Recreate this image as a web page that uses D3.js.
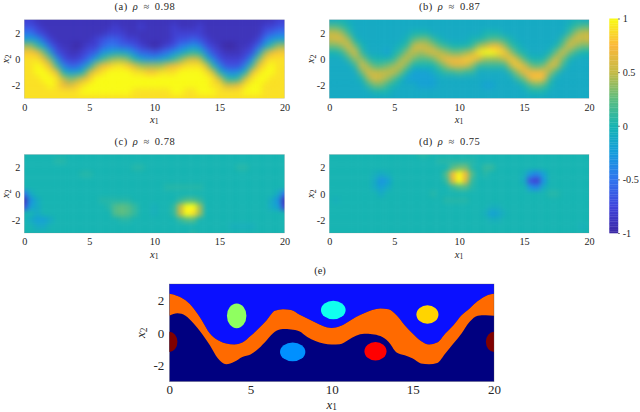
<!DOCTYPE html>
<html><head><meta charset="utf-8">
<script src="https://cdn.jsdelivr.net/npm/d3@7"></script>
<style>html,body{margin:0;padding:0;background:#fff}svg{display:block}
text{font-family:"Liberation Serif",serif;fill:#262626}</style></head><body>
<script>
const xTicks=[0,5,10,15,20], yTicks=[-2,0,2], cbTicks=[-1,-0.5,0,0.5,1];
const xNodes=d3.range(41).map(i=>i/2);            // 0 .. 20
const yNodes=d3.range(13).map(i=>3-i/2);          // 3 .. -3
const panelTitles=["(a) ρ ≈ 0.98","(b) ρ ≈ 0.87","(c) ρ ≈ 0.78","(d) ρ ≈ 0.75"];
const parulaStops=["#3b28a4","#4044dc","#2f74ee","#149cdc","#16b4b2","#5dbd80","#c4ba45","#fbb83a","#f9fb15"];
// values in tenths; panels a and b listed column by column (x=0..20, each y=3..-3)
const fieldA=[
[-8,-7,-5,-2,4,8,9,9,9,9,9,9,9],[-8,-7,-5,-2,4,8,9,9,9,9,9,9,9],[-9,-8,-7,-3,1,7,9,10,10,9,9,9,9],
[-9,-9,-8,-6,-2,3,7,9,10,10,9,9,9],[-9,-9,-9,-8,-6,-2,3,7,9,10,10,9,9],[-9,-9,-9,-9,-8,-7,-3,1,7,9,9,9,9],
[-9,-9,-9,-9,-9,-8,-7,-4,0,5,7,9,9],[-9,-9,-9,-9,-9,-9,-8,-6,-2,3,6,9,9],[-9,-9,-9,-9,-10,-9,-8,-6,-2,4,8,9,9],
[-9,-9,-9,-9,-9,-8,-7,-4,0,6,9,10,9],[-9,-9,-9,-9,-8,-7,-5,-1,5,8,10,10,9],[-9,-9,-9,-8,-8,-6,-2,4,8,10,10,10,9],
[-9,-9,-9,-7,-6,-3,1,7,9,10,10,10,9],[-9,-9,-8,-6,-5,-2,3,8,10,10,10,10,9],[-9,-8,-8,-6,-5,-1,4,9,10,10,10,10,9],
[-9,-9,-8,-7,-6,-1,4,9,10,10,10,10,9],[-9,-9,-9,-8,-6,-2,3,8,10,10,10,10,9],[-9,-9,-9,-8,-7,-4,0,6,9,10,10,9,9],
[-9,-8,-9,-9,-8,-6,-2,4,9,10,10,9,9],[-9,-9,-9,-9,-9,-6,-3,4,8,10,10,9,9],[-9,-9,-9,-9,-10,-7,-3,4,8,10,10,9,9],
[-9,-9,-9,-9,-9,-6,-2,4,9,10,10,9,9],[-9,-9,-9,-9,-8,-5,-1,6,9,10,10,9,9],[-9,-8,-8,-8,-7,-3,1,7,9,10,10,10,9],
[-9,-9,-8,-7,-5,-2,3,8,10,10,10,10,9],[-9,-9,-8,-7,-4,0,5,9,10,10,10,9,9],[-9,-9,-8,-6,-3,1,6,9,10,10,10,9,9],
[-9,-8,-8,-7,-4,0,5,9,10,10,10,10,9],[-9,-9,-9,-8,-7,-4,0,6,9,10,10,10,9],[-9,-9,-9,-9,-8,-7,-4,0,6,9,9,10,9],
[-9,-9,-9,-9,-9,-8,-7,-4,0,6,9,9,9],[-9,-9,-9,-9,-10,-9,-8,-7,-3,1,6,9,9],[-9,-9,-9,-9,-10,-9,-8,-7,-4,0,6,9,9],
[-9,-9,-9,-9,-9,-9,-8,-7,-3,1,7,9,9],[-9,-9,-9,-9,-9,-8,-7,-4,0,6,9,10,9],[-9,-9,-9,-9,-8,-7,-3,1,7,9,10,10,9],
[-9,-9,-9,-8,-6,-2,3,7,9,10,10,10,9],[-9,-8,-7,-5,-2,4,8,9,10,10,9,9,9],[-9,-8,-6,-3,1,7,9,10,10,9,9,9,9],
[-8,-7,-5,-2,4,8,9,9,9,9,9,9,9],[-8,-7,-5,-2,4,8,9,9,9,9,9,9,9]];
const fieldB=[
[-1,2,5,5,3,0,-1,-1,-1,-1,-1,-1,-1],[-1,2,5,6,3,0,-1,-1,-1,-1,-1,-1,-1],[0,1,4,6,4,1,-1,-1,-1,-1,-1,-1,-1],
[-1,0,1,4,6,4,1,-1,-1,-1,-1,-1,-1],[-1,-1,-1,0,3,6,4,1,-1,-1,-1,-1,-1],[-1,-1,-1,-1,0,1,4,6,3,0,-1,-1,-1],
[-1,-1,-1,-1,-1,-1,1,4,6,4,1,-1,-1],[-1,-1,-1,-1,-1,-1,0,2,5,6,3,0,-1],[-1,-1,-1,-1,-1,-1,0,2,5,5,3,0,-1],
[-1,-1,-1,-1,-1,-2,0,3,5,4,1,0,-1],[-1,-1,-1,-1,-1,0,1,4,5,2,0,-1,-1],[-1,-1,-1,-1,0,1,4,5,3,0,-1,-1,-1],
[-1,-1,-1,0,1,4,5,3,0,-2,-1,-1,-1],[-1,-1,0,2,5,5,3,0,-2,-2,-1,-1,-1],[-1,-1,0,3,6,4,2,0,-2,-2,-2,-1,-1],
[-1,-1,0,3,5,5,2,0,-2,-2,-2,-1,-1],[-1,-1,-1,1,4,6,3,0,-1,-2,-2,-1,-1],[-1,-1,-1,0,2,5,5,2,0,-1,-1,-1,-1],
[-1,-1,-1,-1,1,4,7,4,1,-1,-1,-1,-1],[-1,-1,-1,-1,0,3,7,6,1,-1,-1,-1,-1],[-1,-1,-1,-1,0,3,7,6,2,-1,-1,-1,-1],
[-1,-1,-1,-1,0,4,8,6,1,-1,-1,-1,-1],[-1,-1,-1,0,1,5,8,4,1,-1,-1,-1,-1],[-1,-1,-1,0,4,9,6,1,-1,-1,-1,-1,-1],
[-1,-1,0,1,5,10,4,1,-1,-1,-2,-1,-1],[-1,-1,0,2,7,10,4,1,-1,-1,-2,-1,-1],[-1,-1,0,2,7,9,4,1,-1,-1,-1,-1,-1],
[-1,-1,-1,1,4,8,5,1,-1,-1,-1,-1,-1],[-1,-1,-1,0,1,4,8,5,1,-1,-1,-1,-1],[-1,-1,-1,-1,0,1,5,8,4,1,-1,-1,-1],
[-1,-1,-1,-1,-1,0,2,6,7,3,0,-1,-1],[-1,-1,-1,-1,-1,-1,0,3,7,7,2,0,-1],[-1,-1,-1,-1,-1,-1,0,2,7,8,3,0,-1],
[-1,-1,-1,-1,-1,-1,0,3,7,7,2,0,-1],[-1,-1,-1,-1,-1,0,3,6,4,1,0,-1,-1],[-1,-1,-1,-1,0,3,6,5,1,-1,-1,-1,-1],
[-1,-1,-1,1,3,6,3,1,-1,-1,-1,-1,-1],[-1,0,1,4,6,3,0,-1,-1,-1,-1,-1,-1],[0,1,4,6,4,1,-1,-1,-1,-1,-1,-1,-1],
[-1,2,5,5,3,0,-1,-1,-1,-1,-1,-1,-1],[-1,2,5,6,3,0,-1,-1,-1,-1,-1,-1,-1]];
// panels c and d listed row by row (y=3..-3, each x=0..20), grouped by ten columns
const fieldCRows=[
[0,0,0,0,0,0,0,0,0,0, 0,0,0,0,0,0,0,0,0,0, 0,0,0,0,0,0,0,0,0,0, 0,0,0,0,0,0,0,0,0,0, 0],
[0,0,0,0,0,.5,.5,0,0,0, 0,0,0,0,0,0,0,0,0,0, 0,0,0,0,0,0,0,0,0,0, 0,0,0,0,0,0,0,0,0,0, 0],
[0,0,0,0,0,0,0,0,0,0, 0,0,0,0,0,0,0,.5,.5,0, 0,0,0,0,0,0,0,0,0,0, 0,0,0,.5,.5,0,0,0,0,0, 0],
[0,0,0,0,0,0,0,0,0,.5, .5,0,0,0,0,0,0,0,0,0, 0,0,0,0,0,0,0,0,0,0, 0,0,0,0,0,0,0,0,0,0, 0],
[0,0,0,0,0,0,0,0,0,0, 0,0,0,0,0,0,0,0,0,0, 0,0,0,0,0,0,0,0,0,0, 0,0,0,0,0,0,0,0,0,0, 0],
[0,0,0,0,0,0,0,0,0,0, 0,0,0,0,0,0,0,0,0,0, 0,0,.5,.5,.5,.5,.5,.5,0,0, 0,0,0,0,0,0,0,0,0,0, 0],
[-5,-1,0,0,0,0,0,0,0,0, 0,0,0,0,0,0,0,0,0,0, 0,0,0,0,0,0,0,0,0,0, 0,0,0,0,0,0,0,0,0,-1, -5],
[-9,-3,-1,0,0,0,0,0,0,0, 0,0,.5,.5,.5,.5,.5,0,0,0, 0,0,0,0,1,2,2,1,0,0, 0,0,0,0,0,0,0,0,-1,-3, -9],
[-7,-2,-1,0,0,0,0,0,0,0, 0,0,0,.5,2,2.5,2,1,0,0, -.5,0,0,1,5,10,10,4,0,0, 0,0,0,0,0,0,0,0,-1,-2, -8],
[0,0,-1,0,0,0,0,0,0,0, 0,0,0,0,2,2.5,2,1,0,0, -.5,0,0,1,5,10,9,4,0,0, 0,0,0,0,0,0,0,0,0,0, 0],
[0,-1,-2,-2,-1,0,0,0,0,0, 0,0,0,0,0,.5,.5,0,0,0, 0,0,0,0,1,2,2,0,0,0, 0,0,0,0,0,0,0,0,0,0, 0],
[0,0,-1,-1,0,0,0,0,0,0, 0,0,0,0,0,0,0,0,0,0, 0,0,0,0,0,0,0,0,0,0, 0,0,-.5,-.5,-.5,-.5,0,0,0,0, 0],
[0,0,0,0,0,0,0,0,0,0, 0,0,0,0,0,0,0,0,0,0, 0,0,0,0,0,0,.5,0,0,0, 0,0,0,0,0,0,0,0,0,0, 0]];
const fieldDRows=[
[0,0,0,0,0,0,0,0,0,0, 0,0,0,0,.5,.5,0,0,0,0, 0,0,0,0,0,0,0,0,0,0, 0,0,0,0,0,0,0,0,0,0, 0],
[0,0,0,0,0,0,0,0,0,0, 0,0,0,0,0,0,0,.5,.5,.5, .5,.5,.5,0,0,0,0,0,0,0, 0,0,0,0,0,0,0,0,0,0, 0],
[0,0,0,0,0,0,0,0,0,0, 0,0,0,0,0,0,0,0,0,2, 3,3,.5,0,1,1,0,0,0,0, 0,0,0,0,0,0,0,0,0,0, 0],
[0,0,0,0,0,0,0,-.5,-1,-.5, 0,0,0,0,0,0,0,0,2,7, 10,7,2,0,.5,0,0,0,0,0, -.5,-3,-4,-2,0,0,0,0,0,0, 0],
[0,0,0,0,0,0,0,-1,-3,-2, 0,0,0,0,0,0,0,0,1,6, 10,6,1,0,0,0,0,0,0,0, -1,-7,-8,-3,0,0,0,0,0,0, 0],
[0,0,0,0,0,0,0,-1,-2,-1, 0,0,0,0,0,0,0,0,0,1, 2,2,.5,0,0,0,0,0,0,0, 0,-3,-4,-1,0,0,0,0,0,0, 0],
[0,0,0,0,0,0,0,0,-1,0, 0,0,0,0,0,0,.5,0,0,0, 0,0,0,0,0,0,0,0,0,0, 0,0,0,0,.5,.5,0,0,0,0, 0],
[0,-.5,0,0,0,0,0,0,0,0, 0,0,0,0,0,0,0,0,.5,.5, .5,.5,0,0,0,0,0,0,0,0, 0,0,0,0,0,0,0,0,0,0, 0],
[0,0,0,0,0,0,0,0,0,0, 0,0,0,0,0,0,0,0,0,0, 0,0,0,0,0,-.5,-.5,0,0,0, 0,0,0,0,0,0,0,0,0,0, 0],
[0,0,0,0,0,0,0,0,0,0, 0,0,0,0,0,0,0,0,0,0, 0,0,0,0,-.5,-2,-1.5,-.5,0,0, 0,0,0,0,0,0,0,0,0,0, 0],
[0,0,0,0,0,0,0,0,0,0, 0,0,0,0,0,0,0,0,0,0, 0,0,0,0,0,-.5,-.5,0,0,0, 0,0,0,0,0,0,0,0,0,0, 0],
[0,0,0,0,0,0,0,0,0,0, 0,0,0,0,0,0,0,0,0,0, 0,0,0,0,0,0,0,0,0,0, 0,0,0,0,0,0,0,0,0,-.5, 0],
[0,0,0,0,0,0,0,0,0,0, 0,0,0,0,0,0,0,0,0,0, 0,0,0,0,0,0,0,0,0,0, 0,0,0,0,0,0,0,0,0,0, 0]];
// panel e: band edges at x=0..20 step .5, then blobs
const bandTop=[2.4,2.27,2,1.5,.78,-.04,-.45,-.65,-.72,-.6,-.2,.27,.78,1.35,1.45,1.4,1.13,.88,.63,.4,.3,.4,.67,.98,1.2,1.4,1.5,1.45,1.08,.47,-.05,-.5,-.72,-.6,-.04,.47,1.08,1.5,1.95,2.27,2.4];
const bandBottom=[1.05,1.2,1.05,.57,-.04,-.76,-1.58,-1.93,-1.78,-1.48,-1.33,-.96,-.45,.06,.23,.2,.1,-.25,-.5,-.66,-.72,-.7,-.45,-.18,-.06,-.08,-.2,-.55,-1.2,-1.37,-1.58,-1.88,-1.93,-1.85,-1.27,-.66,-.04,.68,1.05,1.08,1.05];
const blobX=[4.15,10.1,15.9,7.6,12.7,0,20];
const blobY=[1.05,1.4,1.13,-1.17,-1.13,-.55,-.55];
const blobRx=[.6,.76,.68,.78,.68,.5,.5];
const blobRy=[.76,.57,.57,.57,.57,.62,.62];
const blobColor=["#8fff60","#10ffef","#ffd400","#0090ff","#ff0000","#800000","#800000"];
const regionColor={below:"#000080",above:"#0a10ff",band:"#ff6a00"};

const svg=d3.select("body").append("svg").attr("width",640).attr("height",412);
const defs=svg.append("defs");
const parula=d3.scaleLinear().domain(parulaStops.map((_,i)=>-1+i/4)).range(parulaStops).clamp(true);
[["smA",3.2],["smC",2.4]].forEach(([id,s])=>defs.append("filter").attr("id",id).attr("filterUnits","userSpaceOnUse")
  .attr("x",-30).attr("y",-30).attr("width",700).attr("height",470)
  .attr("color-interpolation-filters","sRGB")
  .append("feGaussianBlur").attr("stdDeviation",s));

function labelX(g,x,y,size,sub){
  const t=g.append("text").attr("x",x).attr("y",y).attr("text-anchor","middle").style("font-size",size+"px");
  t.append("tspan").attr("font-style","italic").text("x");
  t.append("tspan").attr("dy",size*.12).style("font-size",size*.72+"px").text(sub);
  return t;
}
function axes(g,x,y,b,size,opts){
  const ax=g.append("g").attr("transform",`translate(0,${b.y1})`)
    .call(d3.axisBottom(x).tickValues(xTicks).tickFormat(d3.format("d")).tickSize(0).tickPadding(opts.padX));
  const ay=g.append("g").attr("transform",`translate(${b.x0},0)`)
    .call(d3.axisLeft(y).tickValues(yTicks).tickFormat(d=>String(d)).tickSize(0).tickPadding(opts.padY));
  [ax,ay].forEach(a=>{a.select(".domain").remove();a.selectAll("text").style("font-size",size+"px").style("font-family",'"Liberation Serif",serif').attr("fill","#262626");});
  labelX(g,(b.x0+b.x1)/2,opts.xLabelY,opts.labelSize,"1");
  labelX(g,0,0,opts.labelSize,"2").attr("transform",`translate(${opts.yLabelX},${(b.y0+b.y1)/2}) rotate(-90)`);
}
function heat(panelBox,cols,title,id,filterId){
  const b=panelBox;
  const x=d3.scaleLinear().domain([0,20]).range([b.x0,b.x1]);
  const y=d3.scaleLinear().domain([-3,3]).range([b.y1,b.y0]);
  const g=svg.append("g");
  defs.append("clipPath").attr("id",id).append("rect").attr("x",b.x0).attr("y",b.y0).attr("width",b.x1-b.x0).attr("height",b.y1-b.y0);
  const dx=(x(1)-x(0))/4, dy=(y(0)-y(1))/4;
  const cells=[];
  cols.forEach((col,i)=>col.forEach((v,j)=>cells.push({i,j,v:v/10})));
  const clip=g.append("g").attr("clip-path",`url(#${id})`).append("g").attr("filter",`url(#${filterId})`);
  clip.selectAll("rect").data(cells).join("rect")
    .attr("x",d=>x(xNodes[d.i])-dx-(d.i===0?14:0))
    .attr("y",d=>y(yNodes[d.j])-dy-(d.j===0?14:0))
    .attr("width",d=>dx*2+.4+((d.i===0||d.i===40)?14:0))
    .attr("height",d=>dy*2+.4+((d.j===0||d.j===12)?14:0))
    .attr("fill",d=>parula(d.v));
  g.append("rect").attr("x",b.x0).attr("y",b.y0).attr("width",b.x1-b.x0).attr("height",b.y1-b.y0)
    .attr("fill","none").attr("stroke","#888").attr("stroke-opacity",.35).attr("stroke-width",.6);
  axes(g,x,y,b,10.2,{padX:5,padY:4,xLabelY:b.y1+24.5,yLabelX:b.x0-15,labelSize:10.7});
  const t=g.append("text").attr("x",(b.x0+b.x1)/2-9.5).attr("y",b.y0-9.5).attr("text-anchor","middle")
    .style("font-size","10.5px").style("letter-spacing",".5px").style("word-spacing","2px");
  const parts=title.split("ρ");
  t.append("tspan").text(parts[0]);
  t.append("tspan").attr("font-style","italic").text("ρ");
  t.append("tspan").text(parts[1]);
}
const boxA={x0:24.3,x1:284.5,y0:19.7,y1:98.3},boxB={x0:329.3,x1:589,y0:19.7,y1:98.3},
      boxC={x0:24.3,x1:284.5,y0:154.5,y1:233},boxD={x0:329.3,x1:589,y0:154.5,y1:233};
heat(boxA,fieldA,panelTitles[0],"ca","smA");
heat(boxB,fieldB,panelTitles[1],"cb","smA");
heat(boxC,d3.transpose(fieldCRows),panelTitles[2],"cc","smC");
heat(boxD,d3.transpose(fieldDRows),panelTitles[3],"cd","smC");

// colorbar
(function(){
  const c=d3.scaleLinear().domain([-1,1]).range([233,18.5]);
  const g=svg.append("g");
  const levels=d3.range(-1,1.0001,2/128);
  g.selectAll("rect").data(levels.slice(0,-1)).join("rect")
    .attr("x",609.3).attr("width",8.9)
    .attr("y",d=>c(d+2/128)).attr("height",d=>c(d)-c(d+2/128)+.3)
    .attr("fill",d=>parula(d+1/128));
  const a=g.append("g").attr("transform","translate(618.2,0)")
    .call(d3.axisRight(c).tickValues(cbTicks).tickFormat(d=>String(d)).tickSize(1.5).tickPadding(3));
  a.select(".domain").remove();
  a.selectAll("line").attr("stroke","#555");
  a.selectAll("text").style("font-size","10.2px").style("font-family",'"Liberation Serif",serif').attr("fill","#262626");
})();

// panel e
(function(){
  const b={x0:169.3,x1:494,y0:284,y1:381.7};
  const x=d3.scaleLinear().domain([0,20]).range([b.x0,b.x1]);
  const y=d3.scaleLinear().domain([-3,3]).range([b.y1,b.y0]);
  const g=svg.append("g");
  defs.append("clipPath").attr("id","ce").append("rect").attr("x",b.x0).attr("y",b.y0).attr("width",b.x1-b.x0).attr("height",b.y1-b.y0);
  const p=g.append("g").attr("clip-path","url(#ce)");
  p.append("rect").attr("x",b.x0).attr("y",b.y0).attr("width",b.x1-b.x0).attr("height",b.y1-b.y0).attr("fill",regionColor.below);
  const area=(y0,y1)=>d3.area().x((d,i)=>x(xNodes[i])).y0(y0).y1(y1).curve(d3.curveMonotoneX);
  p.append("path").datum(bandTop).attr("fill",regionColor.above).attr("d",area(()=>y(3),d=>y(d)));
  p.append("path").datum(bandTop).attr("fill",regionColor.band).attr("d",area(d=>y(d),(d,i)=>y(bandBottom[i])));
  p.selectAll("ellipse").data(blobX).join("ellipse")
    .attr("cx",d=>x(d)).attr("cy",(d,i)=>y(blobY[i]))
    .attr("rx",(d,i)=>x(blobRx[i])-x(0)).attr("ry",(d,i)=>y(0)-y(blobRy[i]))
    .attr("fill",(d,i)=>blobColor[i]);
  g.append("rect").attr("x",b.x0).attr("y",b.y0).attr("width",b.x1-b.x0).attr("height",b.y1-b.y0)
    .attr("fill","none").attr("stroke","#555").attr("stroke-opacity",.5).attr("stroke-width",.6);
  axes(g,x,y,b,13,{padX:3.5,padY:5,xLabelY:b.y1+26.8,yLabelX:b.x0-24,labelSize:13});
  g.append("text").attr("x",320).attr("y",273.5).attr("text-anchor","middle").style("font-size","10.5px").text("(e)");
})();
</script></body></html>
